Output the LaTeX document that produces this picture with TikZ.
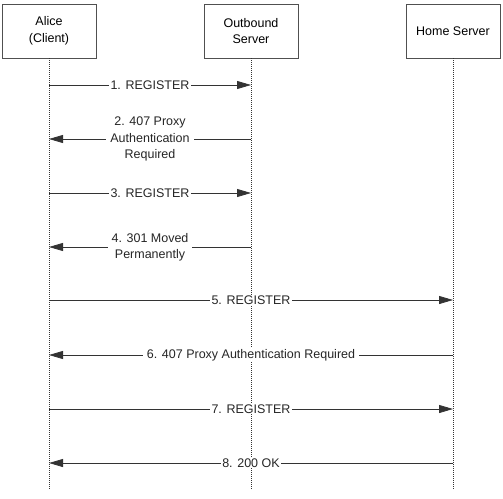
\documentclass[tikz,border=0pt]{standalone}
\usepackage{fontspec}
\setmainfont{Liberation Sans}
\usetikzlibrary{arrows.meta}
\definecolor{linegray}{HTML}{333333}
\definecolor{boxgray}{HTML}{505050}
\tikzset{
  actor/.style={draw=boxgray, line width=0.8pt, minimum width=94pt, minimum height=54pt, inner sep=0pt, align=center, font=\fontsize{12.5}{16.5}\selectfont},
  life/.style={draw=linegray, line width=0.6pt, dash pattern=on 1pt off 1pt},
  msg/.style={draw=linegray, line width=0.8pt, -{Triangle[length=14pt,width=8pt]}},
  lbl/.style={fill=white, inner xsep=1.5pt, inner ysep=1pt, align=center, font=\fontsize{12.5}{16.5}\selectfont, text=black!85},
  widelbl/.style={lbl, inner xsep=4pt}
}
\begin{document}
\begin{tikzpicture}[x=1pt,y=-1pt]
\useasboundingbox (0,0) rectangle (503,498);
\node[actor] (alice) at (49,31) {Alice\\(Client)};
\node[actor] (out) at (251,31) {Outbound\\Server};
\node[actor] (home) at (453,31) {Home Server};
\coordinate (aend) at (49,490);
\coordinate (oend) at (251,490);
\coordinate (hend) at (453,490);
\draw[life] (alice) -- (aend);
\draw[life] (out) -- (oend);
\draw[life] (home) -- (hend);
\foreach \n/\y in {1/85,2/139,3/193,4/247,5/300,6/355,7/409,8/463}{
  \coordinate (r\n) at (0,\y);
}
\draw[msg] (alice |- r1) -- node[lbl] {1. REGISTER} (out |- r1);
\draw[msg] (out |- r2) -- node[widelbl] {2. 407 Proxy\\Authentication\\Required} (alice |- r2);
\draw[msg] (alice |- r3) -- node[lbl] {3. REGISTER} (out |- r3);
\draw[msg] (out |- r4) -- node[widelbl, yshift=-0.5pt] {4. 301 Moved\\Permanently} (alice |- r4);
\draw[msg] (alice |- r5) -- node[lbl] {5. REGISTER} (home |- r5);
\draw[msg] (home |- r6) -- node[widelbl] {6. 407 Proxy Authentication Required} (alice |- r6);
\draw[msg] (alice |- r7) -- node[lbl] {7. REGISTER} (home |- r7);
\draw[msg] (home |- r8) -- node[lbl] {8. 200 OK} (alice |- r8);
\end{tikzpicture}
\end{document}
